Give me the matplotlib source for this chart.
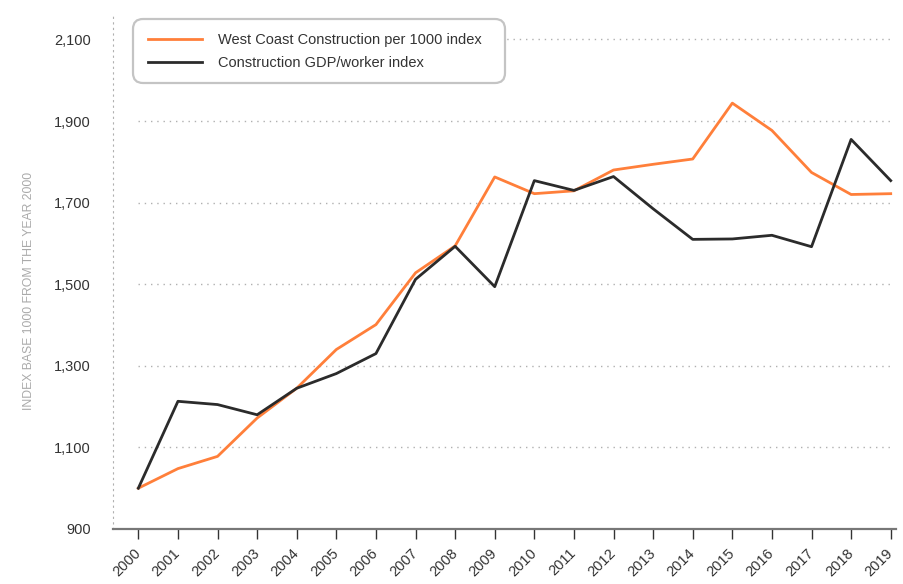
import matplotlib
matplotlib.use("Agg")
import matplotlib.pyplot as plt
from matplotlib.patches import FancyBboxPatch
from matplotlib.transforms import IdentityTransform

plt.rcParams['font.family'] = ['Liberation Sans', 'DejaVu Sans']

years = list(range(2000, 2020))
west_coast = [1000, 1048, 1078, 1172, 1245, 1340, 1401, 1528, 1594, 1763,
              1722, 1729, 1780, 1794, 1807, 1944, 1877, 1774, 1720, 1722]
gdp_worker = [1000, 1213, 1205, 1180, 1245, 1281, 1330, 1512, 1593, 1494,
              1754, 1730, 1764, 1685, 1610, 1611, 1620, 1592, 1855, 1754]
y_ticks = [900, 1100, 1300, 1500, 1700, 1900, 2100]
series_names = ['West Coast Construction per 1000 index',
                'Construction GDP/worker index']

fig = plt.figure(figsize=(9.04, 5.84), dpi=100)
ax = fig.add_axes([0.125, 0.0942, 0.866, 0.8836])

# dotted guide lines only across the data span
ax.hlines(y_ticks[1:], years[0], years[-1], colors='#b0b0b0',
          linewidth=1.0, linestyles=(0, (1, 3.5)), zorder=1)

ax.plot(years, west_coast, color='#ff7f3a', linewidth=2.0,
        label=series_names[0], zorder=3)
ax.plot(years, gdp_worker, color='#2b2b2b', linewidth=2.0,
        label=series_names[1], zorder=3)

ax.set_xlim(1999.36, 2019.13)
ax.set_ylim(900, 2165)

ax.set_xticks(years)
ax.set_xticklabels([str(y) for y in years], rotation=45, ha='right',
                   va='center', rotation_mode='anchor', fontsize=10.5,
                   color='#333333')
ax.set_yticks(y_ticks)
ax.set_yticklabels([f'{v:,}' for v in y_ticks], fontsize=10.5,
                   color='#333333')
ax.tick_params(axis='x', length=7, width=1, color='#333333', pad=9)
ax.tick_params(axis='y', length=0, pad=16)

for side in ['top', 'right']:
    ax.spines[side].set_visible(False)
ax.spines['bottom'].set_color('#777777')
ax.spines['bottom'].set_linewidth(1.6)
ax.spines['left'].set_color('#b0b0b0')
ax.spines['left'].set_linewidth(0.8)
ax.spines['left'].set_linestyle((0, (1, 4)))

ax.set_ylabel('INDEX BASE 1000 FROM THE YEAR 2000', fontsize=8.8,
              color='#aaaaaa')
ax.yaxis.set_label_coords(-0.0996, 0.461)

# legend text and handles, with a rounded box drawn separately
leg = ax.legend(loc='upper left', bbox_to_anchor=(148, 584 - 33),
                bbox_transform=IdentityTransform(),
                fontsize=10.5, handlelength=3.7, handletextpad=1.1,
                borderpad=0, labelspacing=0.6, borderaxespad=0,
                frameon=False)
for t in leg.get_texts():
    t.set_color('#333333')
leg.set_zorder(5)

box = FancyBboxPatch((143, 584 - 73), 352, 44,
                     boxstyle='round,pad=10', transform=IdentityTransform(),
                     facecolor='white', edgecolor='#c4c4c4', linewidth=1.6,
                     zorder=4, clip_on=False)
ax.add_artist(box)

fig.savefig('out.png', dpi=100)
